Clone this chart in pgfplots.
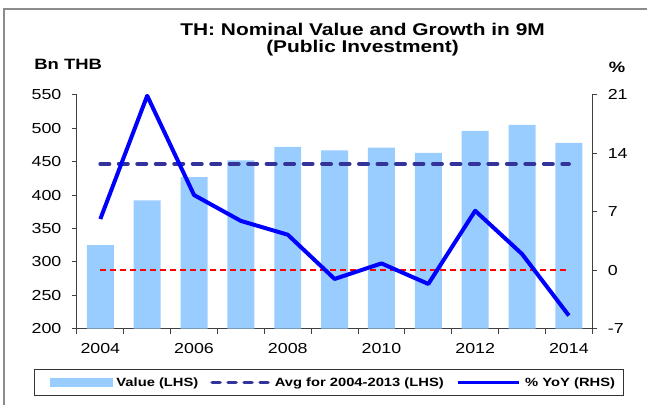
\documentclass[border=0pt]{standalone}
\usepackage{fontspec}
\setmainfont{Liberation Sans}
\usepackage{graphicx}
\usepackage{pgfplots}
\usepackage{pgfplotstable}
\pgfplotsset{compat=1.18}

\definecolor{barblue}{HTML}{99CCFF}
\definecolor{avgblue}{HTML}{333399}
\definecolor{yoyblue}{HTML}{0000FF}
% the original chart is stretched sideways
\newcommand{\sx}[1]{\scalebox{1.23}[1]{#1}}

% x: 0 = 2004 ... 10 = 2014
\pgfplotstableread{
x  val  yoy
0  325  6.13
1  392  20.9
2  427  9.0
3  452  5.9
4  472  4.25
5  467  -1.05
6  471  0.81
7  463  -1.65
8  496  7.12
9  505  1.94
10 478  -5.44
}\datatable

\pgfplotsset{
  common/.style={
    scale only axis, width=516pt, height=234pt,
    at={(77pt,76pt)}, anchor=south west,
    xmin=-0.5, xmax=10.5,
    tick align=outside, major tick length=5pt,
    axis line style={black!75, line width=0.9pt},
    tick style={black!75, line width=0.9pt},
    tick label style={font=\fontsize{14.5}{14.5}\selectfont},
    /pgf/number format/assume math mode=true,
  },
}

\begin{document}
\begin{tikzpicture}[x=1pt,y=1pt]
\path (0,0) rectangle (648,405);
\draw[black!45, line width=1.5pt] (4,0) -- (4,396) -- (648,396);

\begin{axis}[common,
  ymin=200, ymax=550, ytick={200,250,...,550},
  axis x line*=bottom, axis y line*=left,
  yticklabel={\sx{\pgfmathprintnumber{\tick}}},
  yticklabel style={xshift=-7pt},
  xtick={-0.5,0.5,...,10.5}, xticklabels={},
  extra x ticks={0,2,...,10},
  extra x tick labels={\sx{2004},\sx{2006},\sx{2008},\sx{2010},\sx{2012},\sx{2014}},
  extra x tick style={major tick length=11pt, tick style={draw=none}},
  ylabel={\sx{\bfseries Bn THB}},
  every axis y label/.style={at={(axis description cs:-0.017,1.107)}, anchor=base,
    font=\fontsize{15}{15}\selectfont},
]
\addplot[ybar, bar width=27pt, fill=barblue, draw=none] table[x=x, y=val] {\datatable};
\addplot[avgblue, line width=4pt, dash pattern=on 9pt off 9.5pt, line cap=round]
  coordinates {(0,446.7) (10,446.7)};
\end{axis}

\begin{axis}[common,
  ymin=-7, ymax=21, ytick={-7,0,...,21},
  axis x line=none, axis y line*=right,
  yticklabel={\sx{\pgfmathprintnumber{\tick}}},
  yticklabel style={xshift=7pt},
  ylabel={\sx{\bfseries\%}},
  every axis y label/.style={at={(axis description cs:1.048,1.094)}, anchor=base,
    font=\fontsize{15}{15}\selectfont},
  legend style={at={(axis description cs:0.498,-0.231)}, anchor=center,
    draw=none, fill=none, legend columns=3,
    font=\fontsize{12}{12}\selectfont\bfseries,
    /tikz/every odd column/.append style={column sep=2pt},
    /tikz/every even column/.append style={column sep=10pt}},
]
\addplot[red, line width=1.5pt, dash pattern=on 6pt off 4pt, forget plot]
  coordinates {(0,0) (10,0)};
\addlegendimage{legend image code/.code={\fill[barblue] (0pt,-4pt) rectangle (62pt,4pt);}}
\addlegendentry{\sx{Value (LHS)}}
\addlegendimage{legend image code/.code={\draw[avgblue, line width=3.5pt,
  dash pattern=on 8pt off 8pt, line cap=round] (3pt,0pt) -- (60pt,0pt);}}
\addlegendentry{\sx{Avg for 2004-2013 (LHS)}}
\addplot[yoyblue, line width=4pt, line join=round,
  legend image code/.code={\draw[yoyblue, line width=3.5pt] (0pt,0pt) -- (62pt,0pt);}]
  table[x=x, y=yoy] {\datatable};
\addlegendentry{\sx{\% YoY (RHS)}}
\end{axis}

\draw[black!80, line width=0.8pt] (34,9) rectangle (624,35);
\node[anchor=north, align=center, inner sep=0pt,
  font=\fontsize{17}{17.5}\selectfont\bfseries] at (363,382)
  {\sx{TH: Nominal Value and Growth in 9M}\\\sx{(Public Investment)}};
\end{tikzpicture}
\end{document}
